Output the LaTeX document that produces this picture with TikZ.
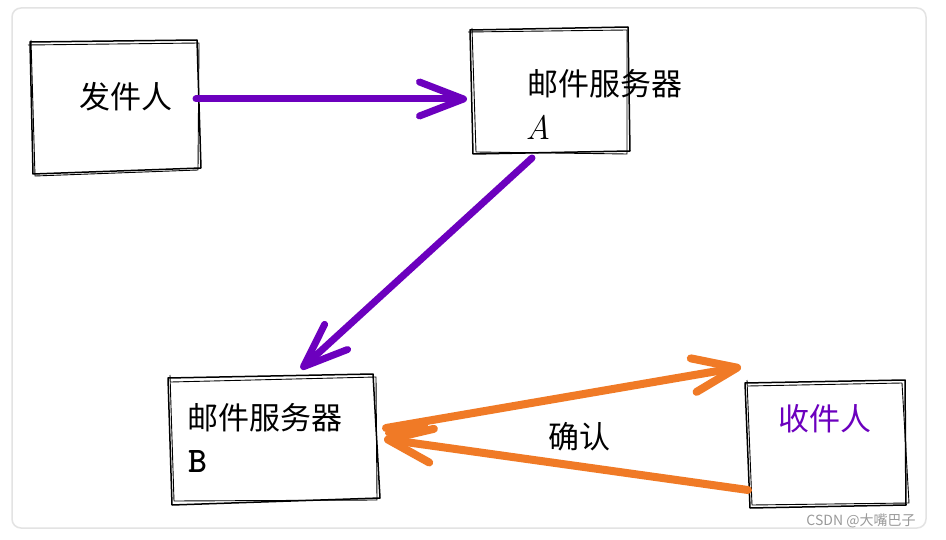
\documentclass[tikz,border=0pt]{standalone}
\usepackage{fontspec}
\newfontfamily\cjk{Noto Sans CJK SC}
\usetikzlibrary{arrows.meta}
\definecolor{mpurple}{HTML}{6C00BE}
\definecolor{morange}{HTML}{F07A26}
\definecolor{panelgray}{HTML}{E3E3E3}
\definecolor{wmgray}{HTML}{9A9A9A}
\tikzset{
  sketch/.style={draw=black, line width=1.5pt, line join=round},
  sketchb/.style={draw=black, line width=0.9pt, line join=round},
  lbl/.style={font=\cjk\fontsize{31}{36}\selectfont, inner sep=0pt, anchor=center},
  parrow/.style={draw=mpurple, line width=7pt, line cap=round,
    -{Straight Barb[length=44pt,width=34pt,line cap=round,line join=round]}},
  oarrow/.style={draw=morange, line width=8pt, line cap=round,
    -{Straight Barb[length=44pt,width=34pt,line cap=round,line join=round]}},
}
\begin{document}
\begin{tikzpicture}[x=1pt,y=-1pt]
\useasboundingbox (0,0) rectangle (946,540);
\fill[white] (0,0) rectangle (946,540);
\draw[panelgray, line width=1.5pt, rounded corners=9pt] (12,8) rectangle (926,528);

% sender box
\draw[sketch] (30,42) -- (197,40) -- (201,168) -- (33,174) -- cycle;
\draw[sketchb] (28,45) -- (199,43) -- (198,170) -- (35,176) -- (31,40);
% server A box
\draw[sketch] (470,30) -- (628,27) -- (630,151) -- (473,154) -- cycle;
\draw[sketchb] (468,32) -- (627,30) -- (627,154) -- (476,152) -- (472,28);
% server B box
\draw[sketch] (168,378) -- (373,374) -- (380,498) -- (172,505) -- cycle;
\draw[sketchb] (171,382) -- (376,377) -- (377,500) -- (174,501) -- (170,375);
% receiver box
\draw[sketch] (745,383) -- (905,380) -- (906,505) -- (750,508) -- cycle;
\draw[sketchb] (748,386) -- (902,383) -- (909,503) -- (752,505) -- (747,380);

% texts
\node[lbl] (sender) at (126,97) {发件人};
\node[lbl] (srvA) at (605,84) {邮件服务器};
\node[inner sep=0pt, font=\fontsize{34}{38}\selectfont\itshape] (labA) at (538,127) {A};
\node[lbl] (srvB) at (265,418) {邮件服务器};
\node[inner sep=0pt, font=\fontsize{36}{40}\selectfont\ttfamily\bfseries] (labB) at (198,462) {B};
\node[lbl, text=mpurple] (recv) at (825,419) {收件人};
\node[lbl] (ack) at (579,437) {确认};
\node[font=\cjk\fontsize{14}{16}\selectfont, text=wmgray, inner sep=0pt] (wm) at (861,521) {CSDN @大嘴巴子};

% arrow endpoints
\coordinate (p1s) at (196,99);
\coordinate (p1e) at (467,99);
\coordinate (p2s) at (532,158);
\coordinate (p2e) at (301,369);
\coordinate (o1s) at (386,428);
\coordinate (o1e) at (741,367);
\coordinate (o2s) at (748,490);
\coordinate (o2e) at (384,439);

\draw[parrow] (p1s) -- (p1e);
\draw[parrow] (p2s) -- (p2e);
\draw[oarrow] (o1s) -- (o1e);
\draw[oarrow] (o2s) -- (o2e);
\draw[morange, line width=6pt, line cap=round] (388,433) -- (425,426);
\end{tikzpicture}
\end{document}
